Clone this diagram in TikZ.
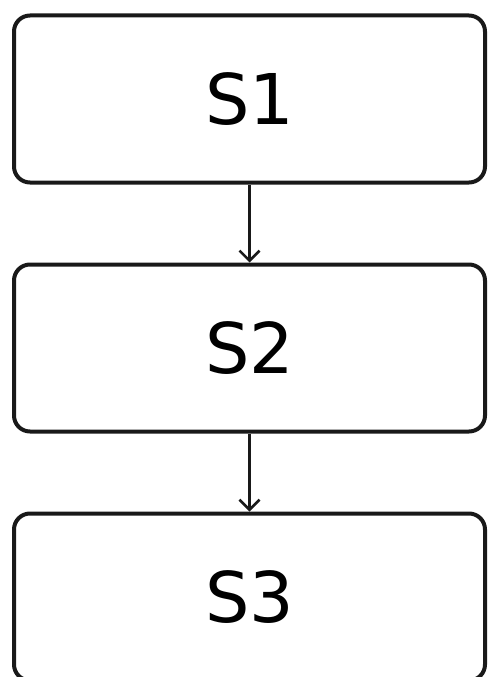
\documentclass[tikz,border=0pt]{standalone}
\usepackage{fontspec}
\setmainfont{DejaVu Sans}
\usetikzlibrary{arrows.meta,positioning}

\begin{document}
\begin{tikzpicture}[
    x=1pt, y=1pt,
    stage/.style={
        draw=black!90,
        line width=4pt,
        rounded corners=16pt,
        align=center,
        minimum width=471pt,
        minimum height=167pt,
        inner sep=0pt,
        font=\fontsize{70}{80}\selectfont
    },
    arrow/.style={-{Straight Barb[length=10pt,width=20pt,line width=2.6pt]}, line width=2.6pt, draw=black!90},
    node distance=78pt
]
\useasboundingbox (0,0) rectangle (488,-677);
\node[stage] (s1) at (249.5,-99) {S1};
\node[stage, below=of s1] (s2) {S2};
\node[stage, below=of s2] (s3) {S3};

\draw[arrow] (s1) -- (s2);
\draw[arrow] (s2) -- (s3);
\end{tikzpicture}
\end{document}
